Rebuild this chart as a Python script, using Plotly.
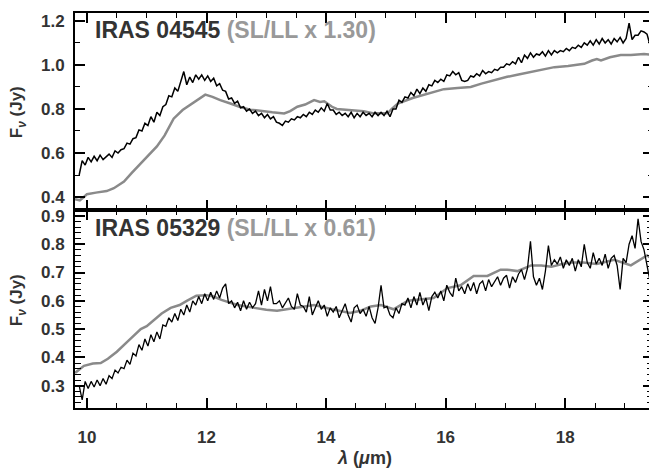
import plotly.graph_objects as go

# ---------------- data ----------------
WAVE = [
    9.87, 9.92, 9.97, 10.02, 10.07, 10.12, 10.17, 10.22, 10.27, 10.32,
    10.37, 10.42, 10.47, 10.52, 10.57, 10.62, 10.67, 10.72, 10.77, 10.82,
    10.87, 10.92, 10.97, 11.02, 11.07, 11.12, 11.17, 11.22, 11.27, 11.32,
    11.37, 11.42, 11.47, 11.52, 11.57, 11.62, 11.67, 11.72, 11.77, 11.82,
    11.87, 11.92, 11.97, 12.02, 12.07, 12.12, 12.17, 12.22, 12.27, 12.32,
    12.37, 12.42, 12.47, 12.52, 12.57, 12.62, 12.67, 12.72, 12.77, 12.82,
    12.87, 12.92, 12.97, 13.02, 13.07, 13.12, 13.17, 13.22, 13.27, 13.32,
    13.37, 13.42, 13.47, 13.52, 13.57, 13.62, 13.67, 13.72, 13.77, 13.82,
    13.87, 13.92, 13.97, 14.02, 14.07, 14.12, 14.17, 14.22, 14.27, 14.32,
    14.37, 14.42, 14.47, 14.52, 14.57, 14.62, 14.67, 14.72, 14.77, 14.82,
    14.87, 14.92, 14.97, 15.02, 15.07, 15.12, 15.17, 15.22, 15.27, 15.32,
    15.37, 15.42, 15.47, 15.52, 15.57, 15.62, 15.67, 15.72, 15.77, 15.82,
    15.87, 15.92, 15.97, 16.02, 16.07, 16.12, 16.17, 16.22, 16.27, 16.32,
    16.37, 16.42, 16.47, 16.52, 16.57, 16.62, 16.67, 16.72, 16.77, 16.82,
    16.87, 16.92, 16.97, 17.02, 17.07, 17.12, 17.17, 17.22, 17.27, 17.32,
    17.37, 17.42, 17.47, 17.52, 17.57, 17.62, 17.67, 17.72, 17.77, 17.82,
    17.87, 17.92, 17.97, 18.02, 18.07, 18.12, 18.17, 18.22, 18.27, 18.32,
    18.37, 18.42, 18.47, 18.52, 18.57, 18.62, 18.67, 18.72, 18.77, 18.82,
    18.87, 18.92, 18.97, 19.02, 19.07, 19.12, 19.17, 19.22, 19.27, 19.32,
    19.37, 19.42,
]

# IRAS 04545 IRS spectrum (black)
FLUX_04545 = [
    0.50, 0.565, 0.545, 0.58, 0.56, 0.585, 0.565, 0.59, 0.57, 0.585,
    0.595, 0.58, 0.61, 0.60, 0.615, 0.62, 0.645, 0.64, 0.665, 0.67,
    0.705, 0.70, 0.735, 0.725, 0.765, 0.74, 0.785, 0.77, 0.81, 0.82,
    0.86, 0.855, 0.895, 0.88, 0.925, 0.97, 0.91, 0.945, 0.92, 0.955,
    0.935, 0.955, 0.93, 0.95, 0.925, 0.94, 0.905, 0.915, 0.885, 0.88,
    0.845, 0.85, 0.825, 0.835, 0.805, 0.81, 0.79, 0.80, 0.78, 0.79,
    0.77, 0.78, 0.76, 0.775, 0.755, 0.765, 0.74, 0.735, 0.725, 0.745,
    0.74, 0.755, 0.75, 0.765, 0.76, 0.775, 0.765, 0.785, 0.775, 0.795,
    0.785, 0.805, 0.79, 0.825, 0.795, 0.795, 0.775, 0.785, 0.77, 0.78,
    0.765, 0.785, 0.76, 0.78, 0.765, 0.785, 0.77, 0.78, 0.765, 0.785,
    0.77, 0.785, 0.77, 0.79, 0.765, 0.80, 0.80, 0.84, 0.83, 0.855,
    0.85, 0.875, 0.86, 0.89, 0.87, 0.895, 0.88, 0.91, 0.905, 0.93,
    0.92, 0.935, 0.925, 0.955, 0.95, 0.97, 0.955, 0.965, 0.93, 0.925,
    0.93, 0.95, 0.945, 0.96, 0.95, 0.975, 0.96, 0.97, 0.965, 0.98,
    0.975, 0.99, 0.99, 1.005, 1.0, 1.015, 1.005, 1.035, 1.01, 1.045,
    1.03, 1.055, 1.035, 1.05, 1.045, 1.06, 1.04, 1.065, 1.045, 1.065,
    1.055, 1.065, 1.06, 1.075, 1.065, 1.08, 1.075, 1.09, 1.08, 1.10,
    1.09, 1.11, 1.09, 1.115, 1.095, 1.12, 1.10, 1.115, 1.095, 1.12,
    1.105, 1.125, 1.10, 1.12, 1.19, 1.115, 1.135, 1.135, 1.155, 1.15,
    1.14, 1.09,
]

# IRAS 05329 IRS spectrum (black)
FLUX_05329 = [
    0.30, 0.25, 0.315, 0.29, 0.315, 0.295, 0.32, 0.30, 0.325, 0.305,
    0.335, 0.325, 0.355, 0.345, 0.365, 0.36, 0.39, 0.375, 0.415, 0.405,
    0.445, 0.425, 0.465, 0.44, 0.48, 0.455, 0.49, 0.465, 0.515, 0.51,
    0.54, 0.525, 0.555, 0.53, 0.57, 0.55, 0.585, 0.56, 0.60, 0.585,
    0.615, 0.59, 0.625, 0.60, 0.63, 0.605, 0.635, 0.61, 0.645, 0.66,
    0.59, 0.60, 0.575, 0.595, 0.565, 0.60, 0.57, 0.595, 0.575, 0.59,
    0.635, 0.585, 0.64, 0.60, 0.65, 0.59, 0.59, 0.60, 0.575, 0.595,
    0.61, 0.58, 0.57, 0.625, 0.585, 0.58, 0.56, 0.615, 0.55, 0.575,
    0.60, 0.57, 0.585, 0.545, 0.575, 0.56, 0.58, 0.54, 0.565, 0.59,
    0.55, 0.525, 0.575, 0.585, 0.555, 0.57, 0.545, 0.58, 0.54, 0.52,
    0.575, 0.655, 0.575, 0.58, 0.55, 0.54, 0.575, 0.555, 0.59, 0.585,
    0.61, 0.575, 0.615, 0.585, 0.63, 0.585, 0.61, 0.565, 0.615, 0.63,
    0.61, 0.635, 0.60, 0.655, 0.63, 0.615, 0.68, 0.635, 0.65, 0.625,
    0.66, 0.635, 0.665, 0.625, 0.66, 0.67, 0.635, 0.675, 0.65, 0.67,
    0.685, 0.655, 0.68, 0.69, 0.645, 0.685, 0.665, 0.695, 0.71, 0.675,
    0.715, 0.81, 0.685, 0.655, 0.68, 0.64, 0.705, 0.795, 0.725, 0.745,
    0.73, 0.755, 0.715, 0.745, 0.725, 0.75, 0.705, 0.745, 0.72, 0.80,
    0.735, 0.715, 0.77, 0.73, 0.75, 0.725, 0.765, 0.715, 0.75, 0.76,
    0.725, 0.64, 0.75, 0.735, 0.80, 0.83, 0.785, 0.89, 0.81, 0.78,
    0.72, 0.67,
]

# scaled SL/LL comparison spectra (grey)
SL_WAVE_04545 = [9.80, 9.88, 9.95, 10.0, 10.15, 10.33, 10.45, 10.62, 10.75, 10.9,
                 11.05, 11.17, 11.3, 11.45, 11.6, 11.73, 11.85, 11.98, 12.1, 12.23,
                 12.4, 12.55, 12.73, 12.9, 13.1, 13.3, 13.4, 13.52, 13.65, 13.8,
                 13.9, 13.97, 14.1, 14.18, 14.4, 14.63, 14.8, 15.03, 15.1, 15.2,
                 15.45, 15.7, 15.97, 16.2, 16.42, 16.6, 16.8, 17.03, 17.2, 17.43,
                 17.6, 17.82, 18.05, 18.32, 18.45, 18.53, 18.6, 18.75, 18.93, 19.1,
                 19.32, 19.48]
SL_FLUX_04545 = [0.39, 0.385, 0.40, 0.413, 0.42, 0.427, 0.44, 0.47, 0.51, 0.553,
                 0.595, 0.63, 0.68, 0.756, 0.795, 0.82, 0.84, 0.865, 0.855, 0.84,
                 0.825, 0.81, 0.797, 0.79, 0.785, 0.78, 0.79, 0.81, 0.82, 0.84,
                 0.832, 0.835, 0.81, 0.80, 0.795, 0.79, 0.78, 0.78, 0.80, 0.825,
                 0.85, 0.87, 0.89, 0.895, 0.90, 0.915, 0.93, 0.946, 0.955, 0.968,
                 0.98, 0.99, 0.995, 1.005, 1.02, 1.027, 1.02, 1.035, 1.045, 1.045,
                 1.05, 1.045]

SL_WAVE_05329 = [9.80, 9.95, 10.1, 10.23, 10.35, 10.5, 10.7, 10.9, 11.0, 11.12,
                 11.25, 11.4, 11.55, 11.67, 11.83, 12.0, 12.12, 12.25, 12.52, 12.8,
                 13.0, 13.18, 13.5, 13.8, 14.1, 14.4, 14.58, 14.75, 14.92, 15.13,
                 15.37, 15.6, 15.8, 16.03, 16.25, 16.47, 16.7, 16.92, 17.03, 17.2,
                 17.43, 17.6, 17.77, 17.95, 18.1, 18.3, 18.53, 18.82, 19.1, 19.37,
                 19.48]
SL_FLUX_05329 = [0.345, 0.37, 0.378, 0.38, 0.395, 0.42, 0.46, 0.50, 0.51, 0.53,
                 0.555, 0.575, 0.585, 0.60, 0.618, 0.62, 0.615, 0.603, 0.585, 0.575,
                 0.568, 0.565, 0.575, 0.585, 0.57, 0.557, 0.565, 0.58, 0.585, 0.57,
                 0.60, 0.605, 0.61, 0.645, 0.655, 0.688, 0.688, 0.71, 0.71, 0.705,
                 0.725, 0.725, 0.72, 0.73, 0.735, 0.735, 0.73, 0.745, 0.725, 0.76,
                 0.745]

NAMES = ["IRAS 04545", "IRAS 05329"]
SCALES = ["(SL/LL x 1.30)", "(SL/LL x 0.61)"]
X_TICKS = [10, 12, 14, 16, 18]
Y_TICKS_TOP = [0.4, 0.6, 0.8, 1.0, 1.2]
Y_TICKS_BOT = [0.3, 0.4, 0.5, 0.6, 0.7, 0.8, 0.9]

# ---------------- figure ----------------
GREY = "#8a8a8a"
TXT = "#333333"
FONT = "Liberation Sans, Arial, sans-serif"

fig = go.Figure()
fig.add_trace(go.Scatter(x=SL_WAVE_04545, y=SL_FLUX_04545, mode="lines",
                         line=dict(color=GREY, width=2.5), xaxis="x2", yaxis="y2"))
fig.add_trace(go.Scatter(x=WAVE, y=FLUX_04545, mode="lines",
                         line=dict(color="black", width=1.5), xaxis="x2", yaxis="y2"))
fig.add_trace(go.Scatter(x=SL_WAVE_05329, y=SL_FLUX_05329, mode="lines",
                         line=dict(color=GREY, width=2.5), xaxis="x", yaxis="y"))
fig.add_trace(go.Scatter(x=WAVE, y=FLUX_05329, mode="lines",
                         line=dict(color="black", width=1.3), xaxis="x", yaxis="y"))

# the page body adds an 8px offset; size the figure so the plot lands where the reference has it
split = 198 / 395
tickfont = dict(family=FONT, size=17, color=TXT, weight="bold")
common_x = dict(range=[9.8, 19.47], showline=True, linecolor="black", linewidth=2,
                mirror="ticks", ticks="inside", ticklen=10, tickwidth=1.5, tickcolor="black",
                tickvals=X_TICKS, showgrid=False, zeroline=False,
                minor=dict(dtick=0.5, tick0=0, ticks="inside", ticklen=5, tickwidth=1.2,
                           tickcolor="black", showgrid=False))
common_y = dict(showline=True, linecolor="black", linewidth=2, mirror="ticks",
                ticks="inside", ticklen=10, tickwidth=1.5, tickcolor="black",
                showgrid=False, zeroline=False, tickfont=tickfont, ticklabelstandoff=5)

fig.update_layout(
    width=649, height=464,
    margin=dict(l=67, r=2, t=5, b=64),
    paper_bgcolor="white", plot_bgcolor="white",
    showlegend=False,
    xaxis=dict(**common_x, anchor="y", tickfont=tickfont, ticklabelstandoff=13),
    xaxis2=dict(**common_x, anchor="y2", matches="x", showticklabels=False),
    yaxis=dict(**common_y, domain=[0, split], range=[0.221, 0.921], tickvals=Y_TICKS_BOT,
               ticktext=[f"{v:.1f}" for v in Y_TICKS_BOT],
               minor=dict(dtick=0.02, tick0=0, ticks="inside", ticklen=6, tickwidth=1.2,
                          tickcolor="black", showgrid=False)),
    yaxis2=dict(**common_y, domain=[split, 1], range=[0.341, 1.236], tickvals=Y_TICKS_TOP,
                ticktext=[f"{v:.1f}" for v in Y_TICKS_TOP],
                minor=dict(dtick=0.1, tick0=0, ticks="inside", ticklen=5, tickwidth=1.2,
                           tickcolor="black", showgrid=False)),
)

ann_y = [(408 - 30) / 395, (408 - 228) / 395]
for name, scale, yy in zip(NAMES, SCALES, ann_y):
    fig.add_annotation(xref="paper", yref="paper", x=(93 - 75) / 580, y=yy,
                       xanchor="left", yanchor="middle", showarrow=False,
                       text=f"<b>{name} <span style='color:#999999'>{scale}</span></b>",
                       font=dict(family=FONT, size=23, color=TXT))

for yy in [(408 - 112) / 395, (408 - 300) / 395]:
    fig.add_annotation(xref="paper", yref="paper", x=(18 - 75) / 580, y=yy,
                       xanchor="center", yanchor="middle", showarrow=False, textangle=-90,
                       text="<b>F<sub><i>ν</i></sub> (Jy)</b>",
                       font=dict(family=FONT, size=17, color=TXT))

fig.add_annotation(xref="paper", yref="paper", x=(365 - 75) / 580, y=(408 - 458) / 395,
                   xanchor="center", yanchor="middle", showarrow=False,
                   text="<b><i>λ</i> (<i>μ</i>m)</b>",
                   font=dict(family=FONT, size=18, color=TXT))

fig.write_html("out.html")
